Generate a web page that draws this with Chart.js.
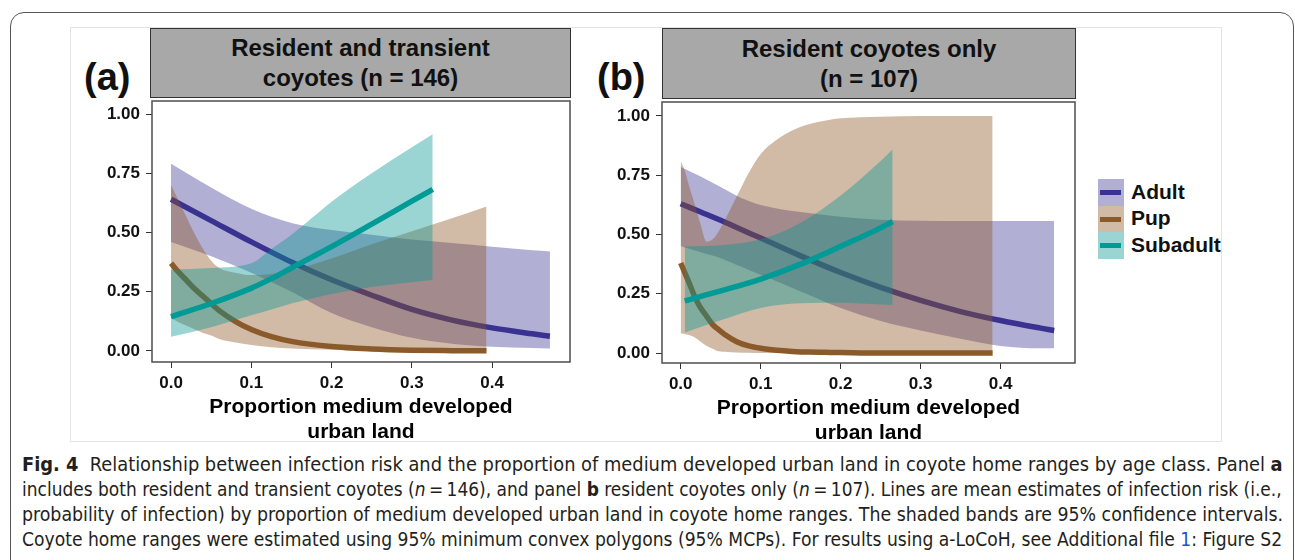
<!DOCTYPE html>
<html><head><meta charset="utf-8">
<script src="https://cdn.jsdelivr.net/npm/chart.js@4.4.1/dist/chart.umd.min.js"></script>
<style>
html,body{margin:0;padding:0;background:#fff;width:1295px;height:560px;overflow:hidden;position:relative;font-family:"Liberation Sans",Arial,sans-serif;}
.abs{position:absolute;}
#frame{left:10px;top:12px;width:1284px;height:620px;border:1px solid #555;border-radius:14px;box-sizing:border-box;}
#fig{left:70px;top:27px;width:1152px;height:415px;border:1px solid #e4e4e4;box-sizing:border-box;}
.strip{background:#a8a8a8;border:1.5px solid #333;box-sizing:border-box;display:flex;align-items:center;justify-content:center;text-align:center;font-weight:bold;font-size:24px;line-height:30px;color:#111;}
.plab{font-weight:bold;font-size:38px;line-height:38px;color:#111;}
.leg{left:1098px;width:26px;height:26.5px;}
.legline{position:absolute;left:2px;right:3px;top:11px;height:5px;}
.legtxt{left:1131px;font-weight:bold;font-size:21px;line-height:26px;color:#111;}
.cap{left:22px;white-space:nowrap;font-family:"Liberation Sans Narrow","DejaVu Sans Condensed","Liberation Sans",sans-serif;font-size:20px;line-height:25px;color:#231f20;transform-origin:0 0;}
.cap b{font-weight:bold;}
canvas{position:absolute;}
</style>
</head><body>
<div id="frame" class="abs"></div>
<div id="fig" class="abs"></div>

<div class="abs strip" style="left:150px;top:28px;width:421px;height:70px;">Resident and transient<br>coyotes (n = 146)</div>
<div class="abs strip" style="left:662px;top:28px;width:414px;height:71px;">Resident coyotes only<br>(n = 107)</div>
<div class="abs plab" style="left:84px;top:58px;">(a)</div>
<div class="abs plab" style="left:597px;top:58px;">(b)</div>

<canvas id="ca" width="520" height="350" style="left:60px;top:95px;"></canvas>
<canvas id="cb" width="515" height="350" style="left:570px;top:96px;"></canvas>

<div class="abs leg" style="top:179px;background:rgba(62,54,148,0.4);"><div class="legline" style="background:#3a3291"></div></div>
<div class="abs leg" style="top:205.5px;background:rgba(140,86,34,0.4);"><div class="legline" style="background:#8b5a2b"></div></div>
<div class="abs leg" style="top:232px;background:rgba(5,150,145,0.4);"><div class="legline" style="background:#009b97"></div></div>
<div class="abs legtxt" style="top:179px;">Adult</div>
<div class="abs legtxt" style="top:205px;">Pup</div>
<div class="abs legtxt" style="top:232px;">Subadult</div>

<div class="abs cap" data-w="1261" style="top:452px;"><b>Fig. 4</b>&nbsp; Relationship between infection risk and the proportion of medium developed urban land in coyote home ranges by age class. Panel <b>a</b></div>
<div class="abs cap" data-w="1260" style="top:477px;">includes both resident and transient coyotes (<i>n</i>&#8201;=&#8201;146), and panel <b>b</b> resident coyotes only (<i>n</i>&#8201;=&#8201;107). Lines are mean estimates of infection risk (i.e.,</div>
<div class="abs cap" data-w="1261" style="top:502px;">probability of infection) by proportion of medium developed urban land in coyote home ranges. The shaded bands are 95% confidence intervals.</div>
<div class="abs cap" data-w="1260" style="top:527px;">Coyote home ranges were estimated using 95% minimum convex polygons (95% MCPs). For results using a-LoCoH, see Additional file <span style="color:#1f4fd1">1</span>: Figure S2</div>

<script>
// ---------- data ----------
const seriesNames = ['Adult', 'Pup', 'Subadult'];
const xTicks = [0, 0.1, 0.2, 0.3, 0.4];
const yTicks = [0, 0.25, 0.5, 0.75, 1.0];
const xTitle = ['Proportion medium developed', 'urban land'];

// Panel (a): resident and transient coyotes
const a_adult_x     = [0, 0.05, 0.1, 0.15, 0.2, 0.25, 0.3, 0.35, 0.4, 0.45, 0.472];
const a_adult_mean  = [0.64, 0.55, 0.46, 0.375, 0.30, 0.235, 0.175, 0.13, 0.097, 0.072, 0.062];
const a_adult_upper = [0.79, 0.69, 0.60, 0.54, 0.51, 0.49, 0.47, 0.455, 0.44, 0.425, 0.42];
const a_adult_lower = [0.46, 0.40, 0.33, 0.25, 0.16, 0.10, 0.055, 0.03, 0.017, 0.012, 0.01];

const a_pup_x     = [0, 0.01, 0.02, 0.03, 0.04, 0.05, 0.06, 0.08, 0.1, 0.125, 0.15, 0.2, 0.25, 0.3, 0.35, 0.393];
const a_pup_mean  = [0.37, 0.33, 0.295, 0.26, 0.23, 0.20, 0.17, 0.125, 0.09, 0.06, 0.04, 0.018, 0.008, 0.003, 0.001, 0.0];
const a_pup_upper = [0.70, 0.63, 0.56, 0.49, 0.43, 0.38, 0.35, 0.33, 0.32, 0.325, 0.34, 0.39, 0.45, 0.505, 0.56, 0.61];
const a_pup_lower = [0.14, 0.12, 0.105, 0.09, 0.075, 0.065, 0.05, 0.035, 0.025, 0.015, 0.01, 0.005, 0.002, 0.001, 0.0, 0.0];

const a_sub_x     = [0, 0.05, 0.1, 0.125, 0.15, 0.175, 0.2, 0.25, 0.3, 0.326];
const a_sub_mean  = [0.145, 0.20, 0.265, 0.305, 0.35, 0.395, 0.44, 0.535, 0.632, 0.682];
const a_sub_upper = [0.343, 0.35, 0.37, 0.43, 0.49, 0.56, 0.63, 0.75, 0.86, 0.915];
const a_sub_lower = [0.06, 0.10, 0.15, 0.175, 0.20, 0.22, 0.24, 0.27, 0.29, 0.30];

// Panel (b): resident coyotes only
const b_adult_x     = [0, 0.025, 0.05, 0.075, 0.1, 0.15, 0.2, 0.25, 0.3, 0.35, 0.4, 0.45, 0.467];
const b_adult_mean  = [0.63, 0.595, 0.56, 0.522, 0.485, 0.41, 0.34, 0.277, 0.222, 0.175, 0.137, 0.105, 0.095];
const b_adult_upper = [0.785, 0.745, 0.70, 0.655, 0.625, 0.595, 0.575, 0.562, 0.558, 0.557, 0.557, 0.557, 0.557];
const b_adult_lower = [0.45, 0.425, 0.40, 0.365, 0.33, 0.26, 0.19, 0.135, 0.095, 0.06, 0.03, 0.02, 0.02];

const b_pup_x     = [0, 0.005, 0.01, 0.016, 0.02, 0.025, 0.0325, 0.04, 0.045, 0.055, 0.07, 0.085, 0.1, 0.12, 0.14, 0.16, 0.18, 0.2, 0.25, 0.3, 0.35, 0.39];
const b_pup_mean  = [0.38, 0.34, 0.30, 0.25, 0.22, 0.19, 0.155, 0.12, 0.105, 0.078, 0.048, 0.03, 0.02, 0.012, 0.007, 0.004, 0.003, 0.002, 0.0, 0.0, 0.0, 0.0];
const b_pup_upper = [0.81, 0.77, 0.71, 0.645, 0.60, 0.54, 0.47, 0.48, 0.50, 0.56, 0.66, 0.76, 0.84, 0.90, 0.94, 0.965, 0.98, 0.99, 0.997, 1.0, 1.0, 1.0];
const b_pup_lower = [0.083, 0.08, 0.076, 0.069, 0.06, 0.048, 0.03, 0.018, 0.01, 0.005, 0.002, 0.001, 0.0, 0.0, 0.0, 0.0, 0.0, 0.0, 0.0, 0.0, 0.0, 0.0];

const b_sub_x     = [0.005, 0.05, 0.1, 0.15, 0.2, 0.25, 0.265];
const b_sub_mean  = [0.22, 0.262, 0.312, 0.375, 0.45, 0.528, 0.555];
const b_sub_upper = [0.45, 0.455, 0.48, 0.55, 0.665, 0.81, 0.86];
const b_sub_lower = [0.087, 0.138, 0.19, 0.21, 0.212, 0.205, 0.203];

// ---------- styles ----------
const FONT = '"Liberation Sans", Arial, sans-serif';
const lineColors = ['#3a3291', '#8b5a2b', '#009b97'];
const bandColors = ['rgba(62,54,148,0.4)', 'rgba(140,86,34,0.4)', 'rgba(5,150,145,0.4)'];

function group(i, xs, mean, lo, hi) {
  const pts = ys => xs.map((x, k) => ({x: x, y: ys[k]}));
  return {
    line:  {label: seriesNames[i], data: pts(mean), borderColor: lineColors[i], borderWidth: 5.5, fill: false, pointRadius: 0},
    upper: {label: seriesNames[i] + ' upper', data: pts(hi), borderColor: 'rgba(0,0,0,0)', borderWidth: 0, backgroundColor: bandColors[i], fill: '+1', pointRadius: 0},
    lower: {label: seriesNames[i] + ' lower', data: pts(lo), borderColor: 'rgba(0,0,0,0)', borderWidth: 0, fill: false, pointRadius: 0}
  };
}

const boxPlugin = {
  id: 'box',
  afterDraw(chart) {
    const {ctx, chartArea: a} = chart;
    ctx.save();
    ctx.strokeStyle = '#4d4d4d';
    ctx.lineWidth = 1.5;
    ctx.strokeRect(a.left, a.top, a.right - a.left, a.bottom - a.top);
    ctx.restore();
  }
};

function noPad(s) { s.paddingTop = 0; s.paddingBottom = 0; s.paddingLeft = 0; s.paddingRight = 0; }

function makePanel(id, groups, xr, yr) {
  const [ad, pu, su] = groups;
  // drawing order: adult band, adult line, pup band, pup line, subadult band, subadult line
  const datasets = [su.line, su.upper, su.lower, pu.line, pu.upper, pu.lower, ad.line, ad.upper, ad.lower];
  return new Chart(document.getElementById(id), {
    type: 'line',
    data: {datasets},
    plugins: [boxPlugin],
    options: {
      responsive: false, animation: false, devicePixelRatio: 1,
      layout: {padding: {top: 6, right: 10, left: 0, bottom: 0}},
      plugins: {legend: {display: false}, tooltip: {enabled: false}},
      elements: {point: {radius: 0}, line: {cubicInterpolationMode: 'monotone'}},
      scales: {
        x: {
          type: 'linear', min: xr[0], max: xr[1],
          afterBuildTicks: s => { s.ticks = xTicks.map(v => ({value: v})); },
          afterFit: s => { s.height = 83; noPad(s); },
          grid: {drawOnChartArea: false, tickLength: 6, color: '#333', tickWidth: 1},
          border: {display: false},
          ticks: {font: {family: FONT, size: 17, weight: 'bold'}, color: '#111', padding: 5, maxRotation: 0, callback: v => Number(v).toFixed(1)},
          title: {display: true, text: xTitle, color: '#000', font: {family: FONT, size: 21, weight: 'bold', lineHeight: '25px'}, padding: {top: 0, bottom: 0}}
        },
        y: {
          type: 'linear', min: yr[0], max: yr[1],
          afterBuildTicks: s => { s.ticks = yTicks.map(v => ({value: v})); },
          afterFit: s => { s.width = 92; noPad(s); },
          grid: {drawOnChartArea: false, tickLength: 6, color: '#333', tickWidth: 1},
          border: {display: false},
          ticks: {font: {family: FONT, size: 17, weight: 'bold'}, color: '#111', padding: 6, callback: v => Number(v).toFixed(2)}
        }
      }
    }
  });
}

makePanel('ca', [
  group(0, a_adult_x, a_adult_mean, a_adult_lower, a_adult_upper),
  group(1, a_pup_x, a_pup_mean, a_pup_lower, a_pup_upper),
  group(2, a_sub_x, a_sub_mean, a_sub_lower, a_sub_upper)
], [-0.0237, 0.497], [-0.047, 1.055]);

makePanel('cb', [
  group(0, b_adult_x, b_adult_mean, b_adult_lower, b_adult_upper),
  group(1, b_pup_x, b_pup_mean, b_pup_lower, b_pup_upper),
  group(2, b_sub_x, b_sub_mean, b_sub_lower, b_sub_upper)
], [-0.0234, 0.493], [-0.042, 1.059]);

// fit caption lines to their widths
document.querySelectorAll('.cap').forEach(el => {
  const target = Number(el.dataset.w);
  const w = el.scrollWidth;
  if (w > 0) el.style.transform = 'scaleX(' + (target / w) + ')';
});
</script>
</body></html>
